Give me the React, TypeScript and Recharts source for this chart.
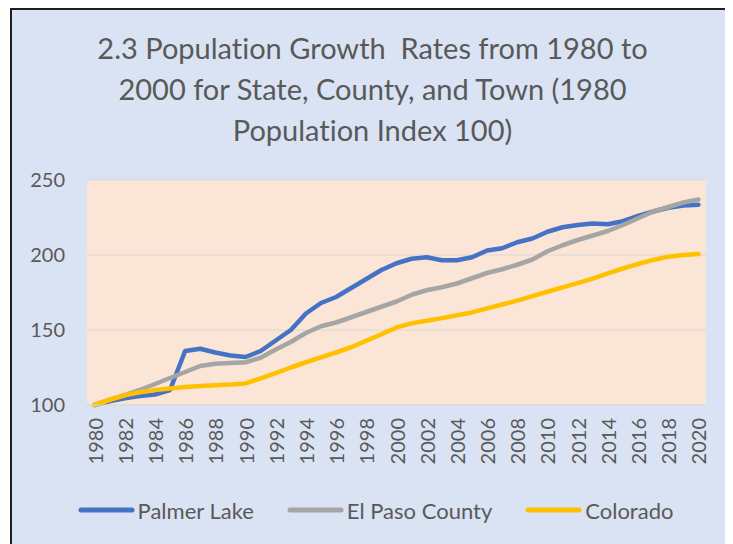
import { LineChart, Line, XAxis, YAxis, CartesianGrid, Legend } from "recharts";

const years = [
  1980, 1981, 1982, 1983, 1984, 1985, 1986, 1987, 1988, 1989,
  1990, 1991, 1992, 1993, 1994, 1995, 1996, 1997, 1998, 1999,
  2000, 2001, 2002, 2003, 2004, 2005, 2006, 2007, 2008, 2009,
  2010, 2011, 2012, 2013, 2014, 2015, 2016, 2017, 2018, 2019, 2020,
];

const palmerLake = [
  100, 102.5, 104.5, 106, 107, 110, 136, 137.5, 135, 133,
  132, 136, 143, 150, 161, 168, 172, 178, 184, 190,
  194.5, 197.5, 198.5, 196.5, 196.5, 198.5, 203, 204.5, 208.5, 211,
  215.5, 218.5, 220, 221, 220.5, 222.5, 226, 229, 231.5, 233, 233.5,
];

const elPasoCounty = [
  100, 103.5, 106.5, 110, 114, 118, 122, 126, 127.5, 128,
  128.5, 131.5, 137, 142, 148, 152.5, 155, 158.5, 162, 165.5,
  169, 173.5, 176.5, 178.5, 181, 184.5, 188, 190.5, 193.5, 197,
  202.5, 206.5, 210, 213, 216, 220, 224.5, 229, 232, 235, 237,
];

const colorado = [
  100, 103.5, 106.5, 108.5, 110, 111, 112, 112.7, 113.1, 113.6,
  114.4, 117.8, 121.2, 125, 128.5, 131.7, 135, 138.5, 142.8, 147.2,
  151.7, 154.4, 156.2, 157.9, 159.8, 161.7, 164.4, 167, 169.6, 172.6,
  175.5, 178.4, 181.2, 184.3, 187.7, 191, 194, 196.7, 198.9, 200, 200.7,
];

const seriesNames = ["Palmer Lake", "El Paso County", "Colorado"];

const xTicks = [
  1980, 1982, 1984, 1986, 1988, 1990, 1992, 1994, 1996, 1998, 2000,
  2002, 2004, 2006, 2008, 2010, 2012, 2014, 2016, 2018, 2020,
];
const yTicks = [100, 150, 200, 250];

const data = years.map((year, i) => ({
  year,
  palmer: palmerLake[i],
  elpaso: elPasoCounty[i],
  colorado: colorado[i],
}));

const FONT = "Lato, 'Open Sans', sans-serif";
const TEXT = "#595959";

// rotated year labels under the plot
const YearTick = (props: any) => {
  const { x, y, payload } = props;
  const ty = y + 13;
  return (
    <text
      x={x}
      y={ty}
      transform={`rotate(-90, ${x}, ${ty})`}
      textAnchor="end"
      dominantBaseline="central"
      fill={TEXT}
      fontSize={20}
      fontFamily={FONT}
    >
      {payload.value}
    </text>
  );
};

const LegendContent = (props: any) => {
  const items = [...(props.payload || [])].sort(
    (a: any, b: any) => seriesNames.indexOf(a.value) - seriesNames.indexOf(b.value)
  );
  return (
    <div
      style={{
        display: "flex",
        justifyContent: "center",
        alignItems: "center",
        height: 40,
        paddingLeft: 33,
        fontFamily: FONT,
        fontSize: 22,
        color: TEXT,
      }}
    >
      {items.map((entry: any, i: number) => (
        <div
          key={entry.value}
          style={{ display: "flex", alignItems: "center", marginLeft: i === 0 ? 0 : 33 }}
        >
          <svg width={57} height={10} style={{ marginRight: 3 }}>
            <line
              x1={3}
              y1={5}
              x2={54}
              y2={5}
              stroke={entry.color}
              strokeWidth={5}
              strokeLinecap="round"
            />
          </svg>
          <span>{entry.value}</span>
        </div>
      ))}
    </div>
  );
};

export default function App() {
  return (
    <div
      style={{
        marginLeft: 2,
        width: 723,
        height: 536,
        boxSizing: "border-box",
        borderLeft: "2px solid #1f1f1f",
        borderTop: "2px solid #1f1f1f",
        background: "#dae3f3",
        position: "relative",
        overflow: "hidden",
      }}
    >
      <div
        style={{
          position: "absolute",
          left: 0,
          top: 17,
          width: 721,
          textAlign: "center",
          fontFamily: FONT,
          fontSize: 29,
          lineHeight: "41px",
          color: TEXT,
          whiteSpace: "pre",
          fontVariantLigatures: "none",
        }}
      >
        {"2.3 Population Growth  Rates from 1980 to\n2000 for State, County, and Town (1980\nPopulation Index 100)"}
      </div>
      <div style={{ position: "absolute", left: 0, top: 0 }}>
        <LineChart
          width={721}
          height={534}
          data={data}
          margin={{ top: 170, right: 27, bottom: 14, left: 0 }}
        >
          <CartesianGrid
            vertical={false}
            stroke="#d9d9d9"
            fill="#fbe5d6"
            fillOpacity={1}
          />
          <XAxis
            dataKey="year"
            type="number"
            domain={[1979.5, 2020.5]}
            ticks={xTicks}
            interval={0}
            height={85}
            tickLine={false}
            axisLine={{ stroke: "#d9d9d9" }}
            tickSize={0}
            tickMargin={0}
            tick={<YearTick />}
          />
          <YAxis
            domain={[100, 250]}
            ticks={yTicks}
            width={75}
            axisLine={false}
            tickLine={false}
            tickSize={0}
            tickMargin={22}
            tick={{ fill: TEXT, fontSize: 20, fontFamily: FONT }}
          />
          <Legend verticalAlign="bottom" height={40} content={<LegendContent />} />
          <Line
            type="linear"
            dataKey="palmer"
            name={seriesNames[0]}
            stroke="#4472c4"
            strokeWidth={4.5}
            dot={false}
            strokeLinejoin="round"
            strokeLinecap="round"
            isAnimationActive={false}
          />
          <Line
            type="linear"
            dataKey="elpaso"
            name={seriesNames[1]}
            stroke="#a5a5a5"
            strokeWidth={4.5}
            dot={false}
            strokeLinejoin="round"
            strokeLinecap="round"
            isAnimationActive={false}
          />
          <Line
            type="linear"
            dataKey="colorado"
            name={seriesNames[2]}
            stroke="#ffc000"
            strokeWidth={4.5}
            dot={false}
            strokeLinejoin="round"
            strokeLinecap="round"
            isAnimationActive={false}
          />
        </LineChart>
      </div>
    </div>
  );
}
